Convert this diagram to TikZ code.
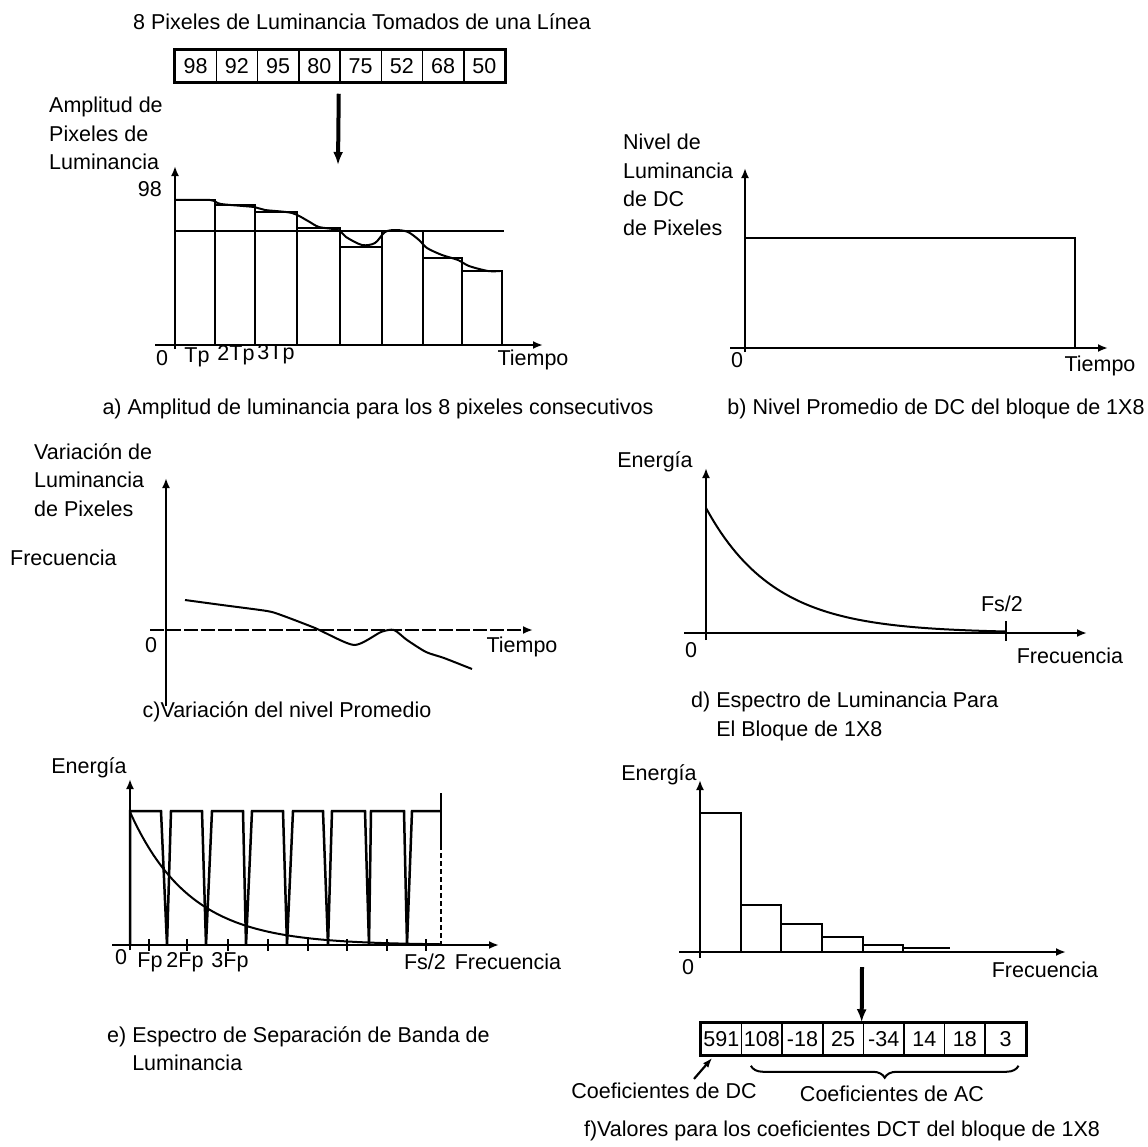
\documentclass[tikz,border=0pt]{standalone}
\usepackage{fontspec}
\setmainfont{Liberation Sans}
\usetikzlibrary{arrows.meta,decorations.pathreplacing,calc}

\begin{document}
\begin{tikzpicture}[x=1pt,y=-1pt,
  txt/.style={font=\fontsize{21.5}{28.5}\selectfont, inner sep=0pt},
  lbl/.style={txt, align=left, anchor=north west},
  ax/.style={line width=2.6pt, -{Latex[length=10pt,width=8pt]}},
  bigarrow/.style={line width=4pt, -{Latex[length=13pt,width=10pt]}},
  bar/.style={line width=2.5pt},
  curve/.style={line width=2pt, line join=round},
  cell/.style={txt, draw, line width=1.5pt, minimum height=32pt, inner sep=0pt},
  frame/.style={line width=2.8pt}]

\useasboundingbox (0,0) rectangle (1148,1146);

% ---------------- a) luminance amplitude of 8 pixels ----------------
\node[txt] (titleA) at (362,22) {8 Pixeles de Luminancia Tomados de una Línea};
\foreach \v [count=\i] in {98,92,95,80,75,52,68,50}
  \node[cell, minimum width=41.25pt] (a\i) at ({175+41.25*(\i-0.5)},66) {\v};
\draw[frame] (a1.north west) rectangle (a8.south east);
\coordinate (aDown) at (338,165);
\draw[bigarrow] ([shift={(-2,11)}]a4.south east) -- (aDown);

\node[lbl] (ylabA) at (49,97) {Amplitud de\\Pixeles de\\Luminancia};
\draw[ax] (155,345) -- (543,345);
\draw[ax] (175,349) -- (175,166);
\foreach \xl/\xr/\t in {175/215/200, 215/255/205, 255/297/212, 297/340/228,
                        340/382/247, 382/423/231, 423/462/258, 462/502/271}
  \draw[bar] (\xl,345) -- (\xl,\t) -- (\xr,\t) -- (\xr,345);
\draw[line width=1.1pt] (175,231) -- (504,231);
\draw[curve] plot[smooth, tension=0.5] coordinates {
  (175,200) (210,200) (221,204) (254,207) (265,210) (292,213) (308,221)
  (319,227) (338,230) (346,237) (362,245) (375,243) (385,232) (396,230)
  (408,232) (419,240) (427,248) (442,255) (458,260) (469,266) (488,271) (500,271)};
\node[txt, anchor=east] (v98) at (162,189) {98};
\node[txt] (zA) at (162,358) {0};
\node[txt] (tp1) at (197,357) {Tp};
\node[txt] (tp2) at (236,355) {2Tp};
\node[txt] (tp3) at (276,354) {3Tp};
\node[txt] (timeA) at (533,360) {Tiempo};
\node[txt] (capA) at (378,409) {a) Amplitud de luminancia para los 8 pixeles consecutivos};

% ---------------- b) DC level of the 1x8 block ----------------
\node[lbl] (ylabB) at (623,134) {Nivel de\\Luminancia\\de DC\\de Pixeles};
\draw[ax] (745,352) -- (745,168);
\draw[ax] (730,348) -- (1108,348);
\draw[bar] (745,238) -- (1075,238) -- (1075,348);
\node[txt] (zB) at (737,360) {0};
\node[txt] (timeB) at (1100,366) {Tiempo};
\node[txt] (capB) at (936,409) {b) Nivel Promedio de DC del bloque de 1X8};

% ---------------- c) variation of the average level ----------------
\node[lbl] (ylabC) at (34,443) {Variación de\\Luminancia\\de Pixeles};
\node[txt, anchor=west] (freqC) at (10,558) {Frecuencia};
\draw[ax] (166,706) -- (166,478);
\draw[ax, dash pattern=on 14pt off 3pt] (150,630) -- (533,630);
\draw[curve] plot[smooth, tension=0.4] coordinates {
  (185,600) (222,605) (267,611) (281,615) (315,628) (354,645) (381,632)
  (394,630) (407,640) (426,652) (444,658) (472,669)};
\node[txt] (zC) at (151,645) {0};
\node[txt] (timeC) at (522,647) {Tiempo};
\node[txt] (capC) at (287,712) {c)Variación del nivel Promedio};

% ---------------- d) luminance spectrum of the block ----------------
\node[txt] (enD) at (655,462) {Energía};
\draw[ax] (706,640) -- (706,468);
\draw[ax] (684,633) -- (1087,633);
\draw[curve] plot[domain=0:300, samples=80] ({706+\x},{633-125*exp(-\x/68)});
\draw[line width=2.6pt] (1006,621) -- (1006,641);
\node[txt] (fsD) at (1002,604) {Fs/2};
\node[txt] (zD) at (691,650) {0};
\node[txt] (freqD) at (1070,656) {Frecuencia};
\node[lbl] (capD) at (691,692) {d) Espectro de Luminancia Para\\\phantom{d)} El Bloque de 1X8};

% ---------------- e) band separation spectrum ----------------
\node[txt] (enE) at (89,768) {Energía};
\draw[ax] (130,950) -- (130,779);
\draw[ax] (112,945) -- (499,945);
\draw[bar, line join=miter] (130,945) -- (130,811) -- (161,811) -- (167,945)
  -- (171,811) -- (202,811) -- (206,945) -- (212,811) -- (243,811) -- (246,945)
  -- (252,811) -- (283,811) -- (287,945) -- (293,811) -- (323,811) -- (328,945)
  -- (332,811) -- (365,811) -- (369,945) -- (371,811) -- (404,811) -- (407,945)
  -- (412,811) -- (441,811);
\draw[line width=1.8pt] (441,793) -- (441,845);
\draw[line width=1.8pt, dash pattern=on 5pt off 3pt] (441,845) -- (441,945);
\foreach \t in {149,187,228,268,308,347,387,426}
  \draw[line width=2.4pt] (\t,939) -- (\t,951);
\draw[curve] plot[domain=0:311, samples=80] ({130+\x},{945-133*exp(-\x/60)});
\node[txt] (zE) at (121,957) {0};
\node[txt] (fp1) at (150,962) {Fp};
\node[txt] (fp2) at (185,962) {2Fp};
\node[txt] (fp3) at (230,962) {3Fp};
\node[txt] (fsE) at (425,962) {Fs/2};
\node[txt] (freqE) at (508,962) {Frecuencia};
\node[lbl] (capE) at (107,1026) {e) Espectro de Separación de Banda de\\\phantom{e)} Luminancia};

% ---------------- f) DCT coefficients of the block ----------------
\node[txt] (enF) at (659,775) {Energía};
\draw[ax] (700,958) -- (700,780);
\draw[ax] (679,952) -- (1066,952);
\foreach \xl/\xr/\t in {700/741/813, 741/781/905, 781/822/924, 822/863/937, 863/903/945}
  \draw[bar] (\xl,952) -- (\xl,\t) -- (\xr,\t) -- (\xr,952);
\draw[line width=2.6pt] (903,948) -- (950,948);
\node[txt] (zF) at (688,967) {0};
\node[txt] (freqF) at (1045,970) {Frecuencia};

\foreach \v [count=\i] in {591,108,-18,25,-34,14,18,3}
  \node[cell, minimum width=40.6pt] (f\i) at ({701+40.6*(\i-0.5)},1039) {\v};
\draw[frame] (f1.north west) rectangle (f8.south east);
\coordinate (fDown) at (862,967);
\draw[bigarrow] (fDown) -- ([xshift=-1pt]f5.north west);

\node[txt] (dcF) at (664,1091) {Coeficientes de DC};
\draw[line width=2.2pt, -{Latex[length=10pt,width=7pt]}]
  ([xshift=30pt, yshift=4pt]dcF.north) -- ([xshift=-9pt, yshift=-2pt]f1.south);
\draw[line width=2pt, decorate, decoration={brace, mirror, amplitude=12pt}]
  ([shift={(10,10)}]f2.south west) -- ([shift={(-8,10)}]f8.south east);
\node[txt] (acF) at (892,1094) {Coeficientes de AC};
\node[txt] (capF) at (842,1131) {f)Valores para los coeficientes DCT del bloque de 1X8};

\end{tikzpicture}
\end{document}
